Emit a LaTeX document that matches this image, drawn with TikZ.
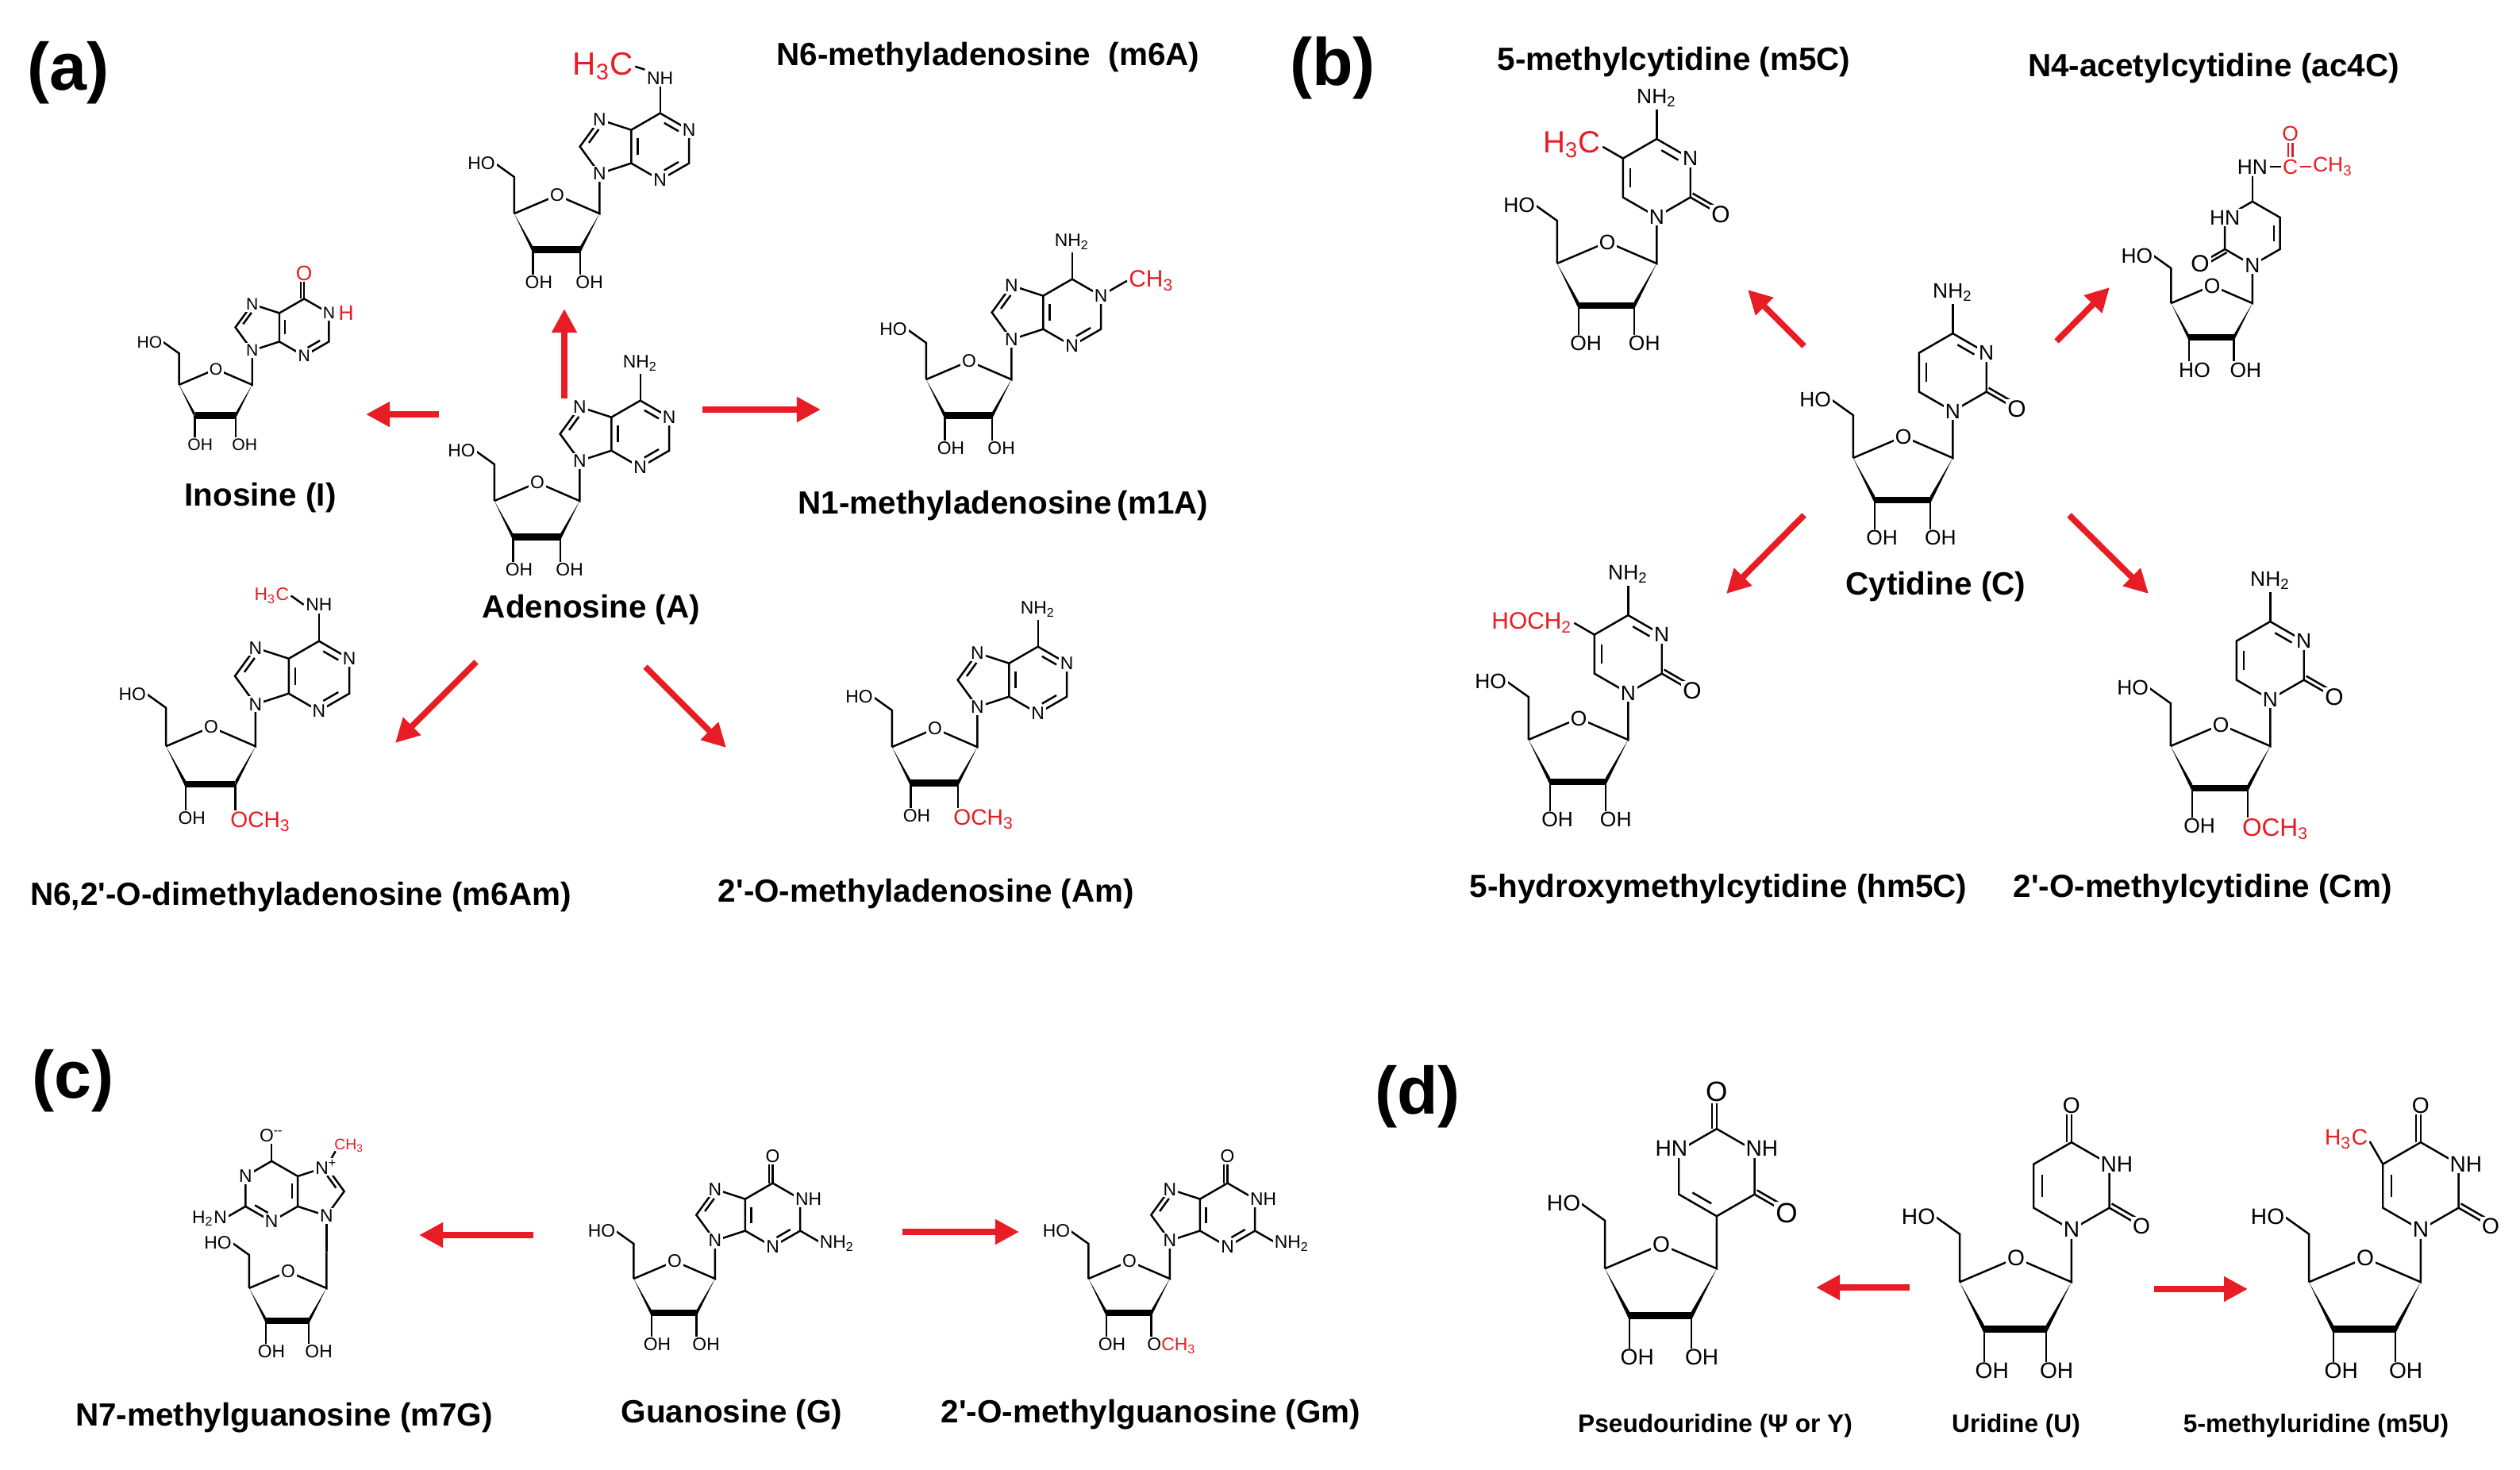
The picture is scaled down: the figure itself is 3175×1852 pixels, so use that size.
\documentclass[tikz,border=0pt]{standalone}
\usepackage{fontspec}
\setmainfont{Liberation Sans}[Ligatures=TeXOff]
\usetikzlibrary{calc,arrows.meta}
\definecolor{myred}{RGB}{232,28,36}
\tikzset{
 bond/.style={line width=0.7pt},
 atom/.style={fill=white,inner sep=0.6pt},
 redarrow/.style={draw=myred,line width=2.2pt,-{Triangle[length=0.3cm,width=0.3cm]}},
 ttl/.style={font=\fontsize{11.5}{12}\selectfont\bfseries},
 ttls/.style={font=\fontsize{9}{10}\selectfont\bfseries},
 panel/.style={font=\fontsize{24}{24}\selectfont\bfseries}
}
\newcommand\Inner[3]{\draw[bond] ($(#1)!0.18!(#2)!0.22!(#3)$) -- ($(#2)!0.18!(#1)!0.22!(#3)$);}
\newcommand\Dbl[2]{\draw[bond] (#1)--(#2) ($(#1)!0.13!90:(#2)$)--($(#2)!0.13!-90:(#1)$);}
% ribose: #1 prefix, #2 2' label, #3 3' label
\newcommand\Rib[3]{%
 \coordinate (#1ro) at (0,0);
 \coordinate (#1r1) at (1.27,-0.55);
 \coordinate (#1r2) at (0.69,-1.63);
 \coordinate (#1r3) at (-0.73,-1.63);
 \coordinate (#1r4) at (-1.29,-0.55);
 \coordinate (#1r5) at (-1.29,0.55);
 \coordinate (#1rn) at (1.27,0.65);
 \draw[bond] (#1r4)--(#1ro)--(#1r1)--(#1rn) (#1r4)--(#1r5)--(-1.85,0.95);
 \node[atom,anchor=east] (#1ho) at (-1.8,0.95) {HO};
 \draw[bond] (#1r3)--++(0,-0.75) (#1r2)--++(0,-0.75);
 \fill (#1r4)--($(#1r3)+(0,0.1)$)--($(#1r3)+(0,-0.1)$)--cycle;
 \fill (#1r1)--($(#1r2)+(0,0.1)$)--($(#1r2)+(0,-0.1)$)--cycle;
 \draw[line width=2.4pt] (#1r3)--(#1r2);
 \node[anchor=north,inner sep=0.5pt] (#1o3) at (-0.55,-2.36) {#3};
 \node[anchor=north west,inner sep=0.5pt] (#1o2) at (0.5,-2.36) {#2};
 \node[atom] at (#1ro) {O};
}
\newcommand\Pur[1]{%
 \coordinate (#1n9) at (1.27,0.65);
 \coordinate (#1c8) at (0.682,1.459);
 \coordinate (#1n7) at (1.27,2.268);
 \coordinate (#1c5) at (2.221,1.959);
 \coordinate (#1c4) at (2.221,0.959);
 \coordinate (#1c6) at (3.087,2.459);
 \coordinate (#1n1) at (3.953,1.959);
 \coordinate (#1c2) at (3.953,0.959);
 \coordinate (#1n3) at (3.087,0.459);
 \coordinate (#1P) at (1.533,1.459);
 \coordinate (#1H) at (3.087,1.459);
 \draw[bond] (#1n9)--(#1c8)--(#1n7)--(#1c5)--(#1c4)--cycle
   (#1c5)--(#1c6)--(#1n1)--(#1c2)--(#1n3)--(#1c4);
 \Inner{#1c8}{#1n7}{#1P}\Inner{#1c4}{#1c5}{#1H}\Inner{#1c2}{#1n3}{#1H}
}
\newcommand\Pyr[1]{%
 \coordinate (#1q270) at (1.27,0.65);
 \coordinate (#1q330) at (2.136,1.15);
 \coordinate (#1q30) at (2.136,2.15);
 \coordinate (#1q90) at (1.27,2.65);
 \coordinate (#1q150) at (0.404,2.15);
 \coordinate (#1q210) at (0.404,1.15);
 \coordinate (#1Q) at (1.27,1.65);
 \draw[bond] (#1q270)--(#1q330)--(#1q30)--(#1q90)--(#1q150)--(#1q210)--cycle;
}
\begin{document}
\begin{tikzpicture}[x=0.01cm,y=-0.01cm]
\useasboundingbox[fill=white] (0,0) rectangle (3175,1852);
% ---------- panel labels
\node[panel] (pa) at (86,92) {(a)};
\node[panel] (pb) at (1679,86) {(b)};
\node[panel] (pc) at (92,1362) {(c)};
\node[panel] (pd) at (1786,1382) {(d)};
% ========== (a)
% Adenosine
\begin{scope}[shift={(677,608)},x=0.42cm,y=0.42cm,font=\fontsize{6.5}{7}\selectfont]
\Rib{A}{OH}{OH}\Pur{A}\Inner{An1}{Ac6}{AH}
\draw[bond] (Ac6)--++(0,0.8) node[atom,anchor=south] {NH\textsubscript{2}};
\foreach \v in {n9,n7,n1,n3} \node[atom] at (A\v) {N};
\end{scope}
% m6A
\begin{scope}[shift={(702,246)},x=0.42cm,y=0.42cm,font=\fontsize{6.5}{7}\selectfont]
\Rib{M}{OH}{OH}\Pur{M}\Inner{Mn1}{Mc6}{MH}
\draw[bond] (Mc6)--++(0,0.8) coordinate (Mnh);
\node[atom,anchor=south] (Mnhl) at (Mnh) {NH};
\node[anchor=east,inner sep=0.5pt,text=myred,font=\fontsize{11.5}{12}\selectfont] (Mme) at ($(Mnh)+(-0.75,0.6)$) {H\textsubscript{3}C};
\draw[bond] (Mme.east)--(Mnhl.north west);
\foreach \v in {n9,n7,n1,n3} \node[atom] at (M\v) {N};
\end{scope}
% Inosine
\begin{scope}[shift={(272,465)},x=0.36cm,y=0.36cm,font=\fontsize{6}{7}\selectfont]
\Rib{I}{OH}{OH}\Pur{I}
\coordinate (Io6) at ($(Ic6)+(0,0.9)$);
\Dbl{Ic6}{Io6}
\node[atom,text=myred,font=\fontsize{7.5}{8}\selectfont] at (Io6) {O};
\node[atom] (In1l) at (In1) {N};
\node[anchor=west,inner sep=0.3pt,text=myred,font=\fontsize{7.5}{8}\selectfont] at (In1l.east) {H};
\foreach \v in {n9,n7,n3} \node[atom] at (I\v) {N};
\end{scope}
% m1A
\begin{scope}[shift={(1221,455)},x=0.42cm,y=0.42cm,font=\fontsize{6.5}{7}\selectfont]
\Rib{B}{OH}{OH}\Pur{B}
\draw[bond] (Bc6)--++(0,0.8) node[atom,anchor=south] {NH\textsubscript{2}};
\coordinate (Bme) at ($(Bn1)+(30:0.9)$);
\draw[bond] (Bn1)--(Bme);
\node[anchor=west,inner sep=0.5pt,text=myred,font=\fontsize{8.5}{9}\selectfont] at (Bme) {CH\textsubscript{3}};
\foreach \v in {n9,n7,n1,n3} \node[atom] at (B\v) {N};
\end{scope}
% m6Am
\begin{scope}[shift={(266,916)},x=0.44cm,y=0.44cm,font=\fontsize{6.5}{7}\selectfont]
\Rib{D}{\textcolor{myred}{\fontsize{8}{8}\selectfont OCH\textsubscript{3}}}{OH}\Pur{D}\Inner{Dn1}{Dc6}{DH}
\draw[bond] (Dc6)--++(0,0.8) coordinate (Dnh);
\node[atom,anchor=south] (Dnhl) at (Dnh) {NH};
\node[anchor=east,inner sep=0.5pt,text=myred] (Dme) at ($(Dnh)+(-0.8,0.5)$) {H\textsubscript{3}C};
\draw[bond] (Dme.east)--(Dnhl.west);
\foreach \v in {n9,n7,n1,n3} \node[atom] at (D\v) {N};
\end{scope}
% Am
\begin{scope}[shift={(1178,918)},x=0.42cm,y=0.42cm,font=\fontsize{6.5}{7}\selectfont]
\Rib{E}{\textcolor{myred}{\fontsize{8}{8}\selectfont OCH\textsubscript{3}}}{OH}\Pur{E}\Inner{En1}{Ec6}{EH}
\draw[bond] (Ec6)--++(0,0.8) node[atom,anchor=south] {NH\textsubscript{2}};
\foreach \v in {n9,n7,n1,n3} \node[atom] at (E\v) {N};
\end{scope}
\node[ttl] (tm6a) at (1245,72) {N6-methyladenosine\ \ (m6A)};
\node[ttl] (ti) at (328,627) {Inosine (I)};
\node[ttl] (ta) at (745,768) {Adenosine (A)};
\node[ttl] (tm1a) at (1264,637) {N1-methyladenosine\,(m1A)};
\node[ttl] (tm6am) at (379,1130) {N6,2'-O-dimethyladenosine (m6Am)};
\node[ttl] (tam) at (1167,1126) {2'-O-methyladenosine (Am)};
\coordinate (a1s) at (711,502); \coordinate (a1e) at (711,389);
\coordinate (a2s) at (553,522); \coordinate (a2e) at (461,522);
\coordinate (a3s) at (885,516); \coordinate (a3e) at (1034,516);
\coordinate (a4s) at (600,834); \coordinate (a4e) at (498,936);
\coordinate (a5s) at (813,840); \coordinate (a5e) at (915,942);
\foreach \i in {1,...,5} \draw[redarrow] (a\i s)--(a\i e);
% ========== (b)
% Cytidine
\begin{scope}[shift={(2398,550)},x=0.49cm,y=0.49cm,font=\fontsize{7.5}{8}\selectfont]
\Rib{C}{OH}{OH}\Pyr{C}\Inner{Cq30}{Cq90}{CQ}\Inner{Cq150}{Cq210}{CQ}
\coordinate (Cox) at ($(Cq330)+(-30:0.9)$); \Dbl{Cq330}{Cox}
\draw[bond] (Cq90)--++(0,0.75) node[atom,anchor=south] {NH\textsubscript{2}};
\node[atom] at (Cq270) {N}; \node[atom] at (Cq30) {N}; \node[atom,font=\fontsize{8.5}{9}\selectfont] at (Cox) {O};
\end{scope}
% m5C
\begin{scope}[shift={(2025,305)},x=0.49cm,y=0.49cm,font=\fontsize{7.5}{8}\selectfont]
\Rib{F}{OH}{OH}\Pyr{F}\Inner{Fq30}{Fq90}{FQ}\Inner{Fq150}{Fq210}{FQ}
\coordinate (Fox) at ($(Fq330)+(-30:0.9)$); \Dbl{Fq330}{Fox}
\draw[bond] (Fq90)--++(0,0.75) node[atom,anchor=south] {NH\textsubscript{2}};
\draw[bond] (Fq150)--++(150:0.6) coordinate (Fme);
\node[anchor=east,inner sep=0.5pt,text=myred,font=\fontsize{11}{11}\selectfont] at ($(Fme)+(0,0.05)$) {H\textsubscript{3}C};
\node[atom] at (Fq270) {N}; \node[atom] at (Fq30) {N}; \node[atom,font=\fontsize{8.5}{9}\selectfont] at (Fox) {O};
\end{scope}
% hm5C
\begin{scope}[shift={(1989,905)},x=0.49cm,y=0.49cm,font=\fontsize{7.5}{8}\selectfont]
\Rib{G}{OH}{OH}\Pyr{G}\Inner{Gq30}{Gq90}{GQ}\Inner{Gq150}{Gq210}{GQ}
\coordinate (Gox) at ($(Gq330)+(-30:0.9)$); \Dbl{Gq330}{Gox}
\draw[bond] (Gq90)--++(0,0.75) node[atom,anchor=south] {NH\textsubscript{2}};
\draw[bond] (Gq150)--++(150:0.6) coordinate (Gme);
\node[anchor=east,inner sep=0.5pt,text=myred,font=\fontsize{8.5}{9}\selectfont] at (Gme) {HOCH\textsubscript{2}};
\node[atom] at (Gq270) {N}; \node[atom] at (Gq30) {N}; \node[atom,font=\fontsize{8.5}{9}\selectfont] at (Gox) {O};
\end{scope}
% Cm
\begin{scope}[shift={(2798,913)},x=0.49cm,y=0.49cm,font=\fontsize{7.5}{8}\selectfont]
\Rib{H}{\textcolor{myred}{\fontsize{9}{9}\selectfont OCH\textsubscript{3}}}{OH}\Pyr{H}\Inner{Hq30}{Hq90}{HQ}\Inner{Hq150}{Hq210}{HQ}
\coordinate (Hox) at ($(Hq330)+(-30:0.9)$); \Dbl{Hq330}{Hox}
\draw[bond] (Hq90)--++(0,0.75) node[atom,anchor=south] {NH\textsubscript{2}};
\node[atom] at (Hq270) {N}; \node[atom] at (Hq30) {N}; \node[atom,font=\fontsize{8.5}{9}\selectfont] at (Hox) {O};
\end{scope}
% ac4C
\begin{scope}[shift={(2787,360)},x=0.40cm,y=0.40cm,font=\fontsize{7.5}{8}\selectfont]
\Rib{K}{OH}{HO}\Pyr{K}\Inner{Kq30}{Kq330}{KQ}
\coordinate (Kox) at ($(Kq210)+(210:0.9)$); \Dbl{Kq210}{Kox}
\draw[bond] (Kq90)--++(0,0.8) coordinate (Knh);
\node[atom,anchor=south] (Khn) at (Knh) {HN};
\node[anchor=west,inner sep=0.5pt,text=myred] (Kc) at ($(Khn.east)+(0.35,0)$) {C};
\node[anchor=west,inner sep=0.5pt,text=myred] (Kme) at ($(Kc.east)+(0.35,0)$) {CH\textsubscript{3}};
\node[anchor=south,inner sep=0.5pt,text=myred] (Ko) at ($(Kc.north)+(0,0.45)$) {O};
\draw[bond] (Khn.east)--(Kc.west);
\draw[bond,myred] (Kc.east)--(Kme.west)
  ($(Kc.north)+(-0.07,0)$)--($(Ko.south)+(-0.07,0)$) ($(Kc.north)+(0.07,0)$)--($(Ko.south)+(0.07,0)$);
\node[atom] at (Kq270) {N}; \node[atom] at (Kq150) {HN}; \node[atom,font=\fontsize{8.5}{9}\selectfont] at (Kox) {O};
\end{scope}
\node[ttl] (tm5c) at (2109,78) {5-methylcytidine (m5C)};
\node[ttl] (tac4c) at (2789,86) {N4-acetylcytidine (ac4C)};
\node[ttl] (tc) at (2439,739) {Cytidine (C)};
\node[ttl] (thm5c) at (2165,1120) {5-hydroxymethylcytidine (hm5C)};
\node[ttl] (tcm) at (2775,1120) {2'-O-methylcytidine (Cm)};
\coordinate (b1s) at (2273,436); \coordinate (b1e) at (2202,365);
\coordinate (b2s) at (2591,430); \coordinate (b2e) at (2658,362);
\coordinate (b3s) at (2273,649); \coordinate (b3e) at (2175,748);
\coordinate (b4s) at (2607,649); \coordinate (b4e) at (2707,748);
\foreach \i in {1,...,4} \draw[redarrow] (b\i s)--(b\i e);
% ========== (c)
% Guanosine
\begin{scope}[shift={(850,1589)},x=0.40cm,y=0.40cm,font=\fontsize{6.5}{7}\selectfont]
\Rib{L}{OH}{OH}\Pur{L}
\coordinate (Lo6) at ($(Lc6)+(0,0.85)$); \Dbl{Lc6}{Lo6}
\node[atom] at (Lo6) {O};
\coordinate (Lnh2) at ($(Lc2)+(-30:0.8)$); \draw[bond] (Lc2)--(Lnh2);
\node[atom,anchor=west] at ($(Lnh2)+(-0.15,0)$) {NH\textsubscript{2}};
\node[atom,anchor=west] at ($(Ln1)+(-0.22,0)$) {NH};
\foreach \v in {n9,n7,n3} \node[atom] at (L\v) {N};
\end{scope}
% Gm
\begin{scope}[shift={(1423,1589)},x=0.40cm,y=0.40cm,font=\fontsize{6.5}{7}\selectfont]
\Rib{Q}{O\textcolor{myred}{CH\textsubscript{3}}}{OH}\Pur{Q}
\coordinate (Qo6) at ($(Qc6)+(0,0.85)$); \Dbl{Qc6}{Qo6}
\node[atom] at (Qo6) {O};
\coordinate (Qnh2) at ($(Qc2)+(-30:0.8)$); \draw[bond] (Qc2)--(Qnh2);
\node[atom,anchor=west] at ($(Qnh2)+(-0.15,0)$) {NH\textsubscript{2}};
\node[atom,anchor=west] at ($(Qn1)+(-0.22,0)$) {NH};
\foreach \v in {n9,n7,n3} \node[atom] at (Q\v) {N};
\end{scope}
% m7G
\begin{scope}[shift={(363,1602)},x=0.38cm,y=0.38cm,font=\fontsize{6.5}{7}\selectfont]
\Rib{R}{OH}{OH}
\begin{scope}[shift={(1.27,1.85)},xscale=-1,shift={(-1.27,-0.65)}]
\Pur{W}
\coordinate (Wo6) at ($(Wc6)+(0,0.85)$); \draw[bond] (Wc6)--(Wo6);
\coordinate (Wnh2) at ($(Wc2)+(-30:0.8)$); \draw[bond] (Wc2)--(Wnh2);
\coordinate (Wme) at ($(Wn7)+(120:0.6)$); \draw[bond] (Wn7)--(Wme);
\end{scope}
\draw[bond] (Rrn)--(Wn9);
\node[atom] at (Wo6) {O\textsuperscript{--}};
\node[atom,anchor=east] at ($(Wnh2)+(0.15,0)$) {H\textsubscript{2}N};
\node[atom] at (Wn7) {N\textsuperscript{+}};
\node[anchor=south west,inner sep=0.5pt,text=myred,font=\fontsize{5.5}{6}\selectfont] at ($(Wme)+(-0.1,-0.1)$) {CH\textsubscript{3}};
\foreach \v in {n9,n1,n3} \node[atom] at (W\v) {N};
\end{scope}
\node[ttl] (tm7g) at (358,1786) {N7-methylguanosine (m7G)};
\node[ttl] (tg) at (922,1782) {Guanosine (G)};
\node[ttl] (tgm) at (1450,1782) {2'-O-methylguanosine (Gm)};
\coordinate (c1s) at (672,1556); \coordinate (c1e) at (528,1556);
\coordinate (c2s) at (1137,1552); \coordinate (c2e) at (1284,1552);
\draw[redarrow] (c1s)--(c1e); \draw[redarrow] (c2s)--(c2e);
% ========== (d)
% Pseudouridine
\begin{scope}[shift={(2093,1568)},x=0.55cm,y=0.55cm,font=\fontsize{8}{9}\selectfont]
\Rib{S}{OH}{OH}\Pyr{S}\Inner{Sq210}{Sq270}{SQ}
\coordinate (Sox) at ($(Sq330)+(-30:0.85)$); \Dbl{Sq330}{Sox}
\coordinate (Soy) at ($(Sq90)+(0,0.85)$); \Dbl{Sq90}{Soy}
\node[atom,font=\fontsize{10}{10}\selectfont] at (Sox) {O};
\node[atom,font=\fontsize{10}{10}\selectfont] at (Soy) {O};
\node[atom,anchor=west] at ($(Sq30)+(-0.25,0.05)$) {NH};
\node[atom,anchor=east] at ($(Sq150)+(0.25,0.05)$) {HN};
\end{scope}
% Uridine
\begin{scope}[shift={(2540,1585)},x=0.55cm,y=0.55cm,font=\fontsize{8}{9}\selectfont]
\Rib{U}{OH}{OH}\Pyr{U}\Inner{Uq150}{Uq210}{UQ}
\coordinate (Uox) at ($(Uq330)+(-30:0.85)$); \Dbl{Uq330}{Uox}
\coordinate (Uoy) at ($(Uq90)+(0,0.85)$); \Dbl{Uq90}{Uoy}
\node[atom] at (Uox) {O}; \node[atom] at (Uoy) {O};
\node[atom] at (Uq270) {N};
\node[atom,anchor=west] at ($(Uq30)+(-0.25,0)$) {NH};
\end{scope}
% m5U
\begin{scope}[shift={(2980,1585)},x=0.55cm,y=0.55cm,font=\fontsize{8}{9}\selectfont]
\Rib{V}{OH}{OH}\Pyr{V}\Inner{Vq150}{Vq210}{VQ}
\coordinate (Vox) at ($(Vq330)+(-30:0.85)$); \Dbl{Vq330}{Vox}
\coordinate (Voy) at ($(Vq90)+(0,0.85)$); \Dbl{Vq90}{Voy}
\node[atom] at (Vox) {O}; \node[atom] at (Voy) {O};
\node[atom] at (Vq270) {N};
\node[atom,anchor=west] at ($(Vq30)+(-0.25,0)$) {NH};
\draw[bond] (Vq150)--++(120:0.6) coordinate (Vme);
\node[anchor=east,inner sep=0.5pt,text=myred] at ($(Vme)+(0,0.05)$) {H\textsubscript{3}C};
\end{scope}
\node[ttls] (tpsi) at (2161,1796) {Pseudouridine (Ψ or Y)};
\node[ttls] (tu) at (2540,1796) {Uridine (U)};
\node[ttls] (tm5u) at (2918,1796) {5-methyluridine (m5U)};
\coordinate (d1s) at (2406,1622); \coordinate (d1e) at (2288,1622);
\coordinate (d2s) at (2714,1624); \coordinate (d2e) at (2832,1624);
\draw[redarrow] (d1s)--(d1e); \draw[redarrow] (d2s)--(d2e);
\end{tikzpicture}
\end{document}
